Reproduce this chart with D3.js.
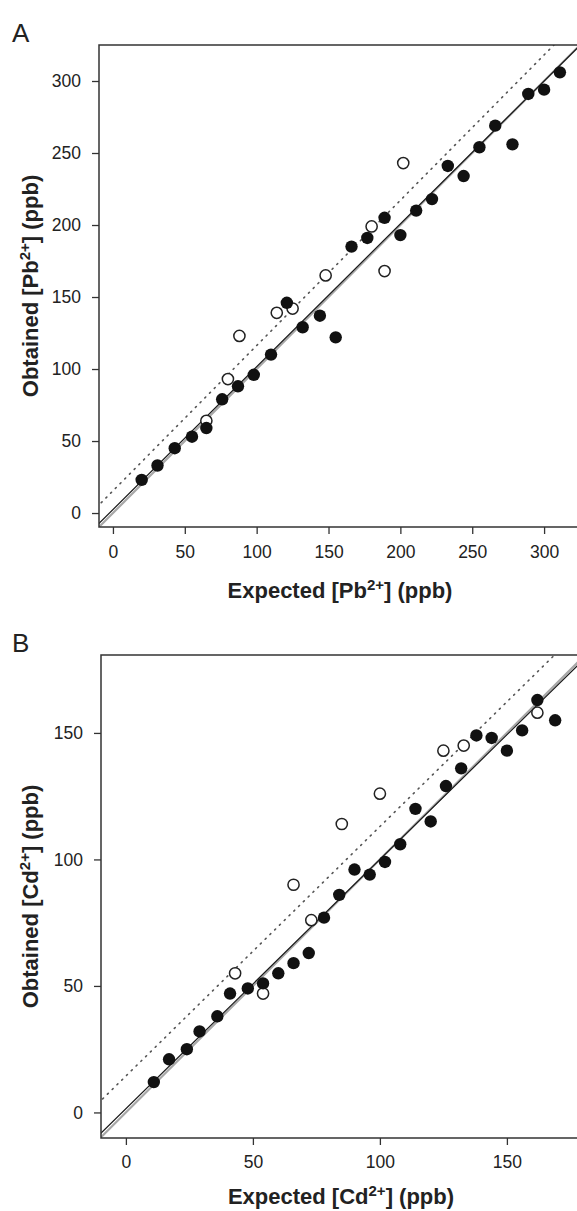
<!DOCTYPE html>
<html>
<head>
<meta charset="utf-8">
<script src="https://cdn.jsdelivr.net/npm/d3@7"></script>
<style>
  body { margin: 0; background: #fff; }
  svg { display: block; font-family: "Liberation Sans", Arial, sans-serif; }
  .tick text { font-size: 17.5px; fill: #222; }
  .tick line { stroke: #333; stroke-width: 1.3; }
</style>
</head>
<body>
<svg id="chart" width="577" height="1211"></svg>
<script>
// panel A: Pb2+
var pbFilledX = [20, 31, 43, 55, 65, 76, 87, 98, 110, 121, 132, 144, 155, 166, 177, 189, 200, 211, 222, 233, 244, 255, 266, 278, 289, 300, 311];
var pbFilledY = [23, 33, 45, 53, 59, 79, 88, 96, 110, 146, 129, 137, 122, 185, 191, 205, 193, 210, 218, 241, 234, 254, 269, 256, 291, 294, 306];
var pbOpenX = [65, 80, 88, 114, 125, 148, 180, 189, 202];
var pbOpenY = [64, 93, 123, 139, 142, 165, 199, 168, 243];
var pbTicks = [0, 50, 100, 150, 200, 250, 300];
// lines: identity (grey), fit of filled (black), fit of open (dotted)
var pbSlopes = [1.0, 0.992, 1.009];
var pbIntercepts = [0, 2.4, 15.4];

// panel B: Cd2+
var cdFilledX = [11, 17, 24, 29, 36, 41, 48, 54, 60, 66, 72, 78, 84, 90, 96, 102, 108, 114, 120, 126, 132, 138, 144, 150, 156, 162, 169];
var cdFilledY = [12, 21, 25, 32, 38, 47, 49, 51, 55, 59, 63, 77, 86, 96, 94, 99, 106, 120, 115, 129, 136, 149, 148, 143, 151, 163, 155];
var cdOpenX = [43, 54, 66, 73, 85, 100, 125, 133, 162];
var cdOpenY = [55, 47, 90, 76, 114, 126, 143, 145, 158];
var cdTicks = [0, 50, 100, 150];
var cdSlopes = [1.0, 0.985, 0.986];
var cdIntercepts = [0, 1.5, 14.4];

var svg = d3.select("#chart");

function drawPanel(p) {
    var g = svg.append("g");
    var x = d3.scaleLinear().domain(p.xDomain).range([p.left, p.right]);
    var y = d3.scaleLinear().domain(p.yDomain).range([p.bottom, p.top]);

    var clipId = "clip" + p.letter;
    svg.append("clipPath").attr("id", clipId)
        .append("rect")
        .attr("x", p.left).attr("y", p.top)
        .attr("width", p.right - p.left).attr("height", p.bottom - p.top);

    // panel letter
    g.append("text")
        .attr("x", 12).attr("y", p.top - 3)
        .style("font-size", "26px").style("fill", "#222")
        .text(p.letter);

    // lines
    var lineStyles = [
        { stroke: "#a8a8a8", width: 2.2, dash: null },
        { stroke: "#1a1a1a", width: 1.2, dash: null },
        { stroke: "#555", width: 1.6, dash: "1.2,5.5" }
    ];
    var lines = g.append("g").attr("clip-path", "url(#" + clipId + ")");
    p.slopes.forEach(function(s, i) {
        var b = p.intercepts[i];
        var x0 = p.xDomain[0] - 5, x1 = p.xDomain[1] + 5;
        var st = lineStyles[i];
        lines.append("line")
            .attr("x1", x(x0)).attr("y1", y(s * x0 + b))
            .attr("x2", x(x1)).attr("y2", y(s * x1 + b))
            .attr("stroke", st.stroke)
            .attr("stroke-width", st.width)
            .attr("stroke-linecap", "round")
            .attr("stroke-dasharray", st.dash);
    });

    // points
    var filled = p.filledX.map(function(v, i) { return [v, p.filledY[i]]; });
    var open = p.openX.map(function(v, i) { return [v, p.openY[i]]; });

    g.append("g").selectAll("circle")
        .data(open).enter().append("circle")
        .attr("cx", function(d) { return x(d[0]); })
        .attr("cy", function(d) { return y(d[1]); })
        .attr("r", 5.6)
        .attr("fill", "#fff")
        .attr("stroke", "#222")
        .attr("stroke-width", 1.5);

    g.append("g").selectAll("circle")
        .data(filled).enter().append("circle")
        .attr("cx", function(d) { return x(d[0]); })
        .attr("cy", function(d) { return y(d[1]); })
        .attr("r", 6.2)
        .attr("fill", "#111");

    // box (right side runs off the page)
    g.append("path")
        .attr("d", "M" + (p.right + 5) + "," + p.top + "H" + p.left + "V" + p.bottom + "H" + (p.right + 5))
        .attr("fill", "none")
        .attr("stroke", "#333")
        .attr("stroke-width", 1.5);

    // axes
    g.append("g")
        .attr("transform", "translate(0," + p.bottom + ")")
        .call(d3.axisBottom(x).tickValues(p.ticks).tickSize(7).tickPadding(p.xPad))
        .call(function(a) { a.select(".domain").remove(); });

    g.append("g")
        .attr("transform", "translate(" + p.left + ",0)")
        .call(d3.axisLeft(y).tickValues(p.ticks).tickSize(7).tickPadding(11))
        .call(function(a) { a.select(".domain").remove(); });

    // axis titles
    var xt = g.append("text")
        .attr("x", (p.left + 577) / 2 + 2)
        .attr("y", p.bottom + p.xTitleOff)
        .attr("text-anchor", "middle")
        .style("font-size", "22px").style("font-weight", "bold").style("fill", "#222");
    xt.append("tspan").text("Expected [" + p.ion);
    xt.append("tspan").attr("baseline-shift", "super").style("font-size", "15px").text("2+");
    xt.append("tspan").text("] (ppb)");

    var yt = g.append("text")
        .attr("transform", "translate(38," + ((p.top + p.bottom) / 2) + ") rotate(-90)")
        .attr("text-anchor", "middle")
        .style("font-size", "22px").style("font-weight", "bold").style("fill", "#222");
    yt.append("tspan").text("Obtained [" + p.ion);
    yt.append("tspan").attr("baseline-shift", "super").style("font-size", "15px").text("2+");
    yt.append("tspan").text("] (ppb)");
}

drawPanel({
    letter: "A", ion: "Pb",
    left: 99, right: 577, top: 45, bottom: 527,
    xDomain: [-9.7, 322.9], yDomain: [-9.7, 325],
    xPad: 12, xTitleOff: 71,
    ticks: pbTicks,
    filledX: pbFilledX, filledY: pbFilledY, openX: pbOpenX, openY: pbOpenY,
    slopes: pbSlopes, intercepts: pbIntercepts
});

drawPanel({
    letter: "B", ion: "Cd",
    left: 101, right: 577, top: 655, bottom: 1138,
    xDomain: [-9.8, 177.6], yDomain: [-10.1, 180.8],
    xPad: 11, xTitleOff: 66,
    ticks: cdTicks,
    filledX: cdFilledX, filledY: cdFilledY, openX: cdOpenX, openY: cdOpenY,
    slopes: cdSlopes, intercepts: cdIntercepts
});
</script>
</body>
</html>
